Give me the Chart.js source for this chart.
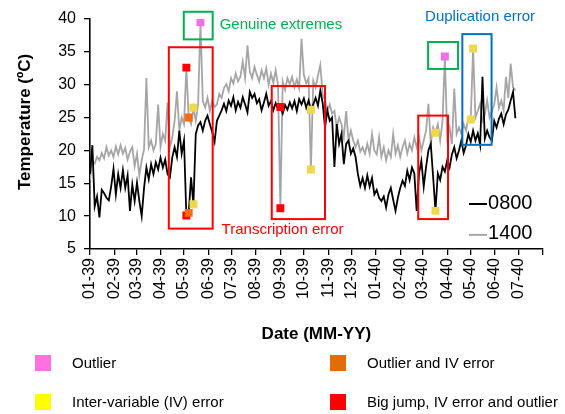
<!DOCTYPE html>
<html>
<head>
<meta charset="utf-8">
<script src="https://cdn.jsdelivr.net/npm/chart.js@4.4.0/dist/chart.umd.min.js"></script>
<style>
  html, body { margin: 0; padding: 0; background: #fff; }
  #wrap { width: 565px; height: 414px; }
</style>
</head>
<body>
<div id="wrap"><canvas id="chart" width="565" height="414"></canvas></div>
<script>
// daily temps, one sample every STEP days from 01-01-1939
const STEP = 3;
const t0800 = [
  16.4, 20.8, 11.5, 13.0, 9.8, 14.0, 13.5, 12.8, 12.4, 14.5,
  17.2, 13.3, 16.4, 14.3, 17.0, 14.3, 16.2, 10.8, 14.8, 12.3,
  15.1, 12.3, 10.0, 14.3, 17.4, 15.6, 17.9, 16.4, 18.2, 17.1,
  18.9, 17.4, 18.6, 16.4, 15.9, 18.9, 20.5, 19.0, 23.0, 19.5,
  21.5, 10.1, 10.5, 15.9, 11.8, 22.5, 23.8, 24.3, 23.0, 24.5,
  25.3, 24.0, 22.8, 21.3, 24.5, 25.3, 26.1, 27.1, 26.0, 27.6,
  26.8, 28.1, 26.1, 27.4, 26.5, 28.1, 27.0, 25.8, 28.9, 28.0,
  28.6, 27.2, 27.8, 26.1, 27.3, 28.6, 26.8, 27.5, 26.1, 27.2,
  26.3, 26.6, 25.6, 26.9, 26.2, 27.3, 26.4, 27.5, 26.0, 27.8,
  27.0, 27.9, 26.5, 27.6, 26.2, 27.0, 28.0, 26.8, 29.1, 27.2,
  23.5, 26.1, 24.5, 25.0, 17.5, 24.0, 21.0, 22.5, 17.9, 21.0,
  21.5, 19.5, 20.3, 19.0, 16.4, 14.6, 15.8, 14.3, 16.2, 14.5,
  15.8, 13.3, 14.0, 12.8, 12.3, 13.0, 11.3, 13.3, 14.3, 12.5,
  10.8, 12.8, 14.3, 15.4, 14.6, 16.9, 15.5, 17.4, 16.5, 10.8,
  16.5, 18.4, 14.5, 17.5, 20.0, 21.0, 16.0, 10.8, 16.5, 15.5,
  17.5, 16.8, 18.5, 17.4, 19.4, 20.5, 18.8, 20.0, 21.5, 19.6,
  20.8, 22.5, 21.3, 23.0, 21.5, 22.6, 20.8, 31.2, 21.8, 23.0,
  22.0, 21.5, 24.5, 23.5, 24.8, 25.6, 24.0, 25.5, 26.2, 27.6,
  28.9, 24.9
];
const t1400 = [
  15.5, 18.4, 18.0, 19.0, 18.5, 19.6, 18.8, 20.5, 19.2, 20.0,
  19.0, 20.6, 19.4, 20.8, 19.5, 20.4, 18.6, 19.8, 20.5, 17.6,
  19.5, 16.2, 18.5, 20.2, 31.0, 20.5, 21.5, 20.0, 21.0, 27.0,
  20.5, 22.5, 21.5, 27.3, 20.5, 22.0, 24.5, 29.0, 23.0, 25.0,
  24.0, 32.6, 25.0, 24.0, 26.5, 24.5, 27.0, 39.5, 27.5, 26.5,
  28.0, 26.0, 27.6, 26.6, 27.0, 28.6, 28.0, 29.5, 30.1, 29.0,
  31.0, 30.2, 31.7, 30.5, 31.2, 33.5, 31.0, 36.0, 32.0, 31.0,
  32.7, 31.5, 30.5, 32.2, 31.0, 32.5, 30.0, 31.7, 30.3, 32.2,
  30.0, 11.2, 30.5, 29.2, 31.0, 30.1, 31.2, 29.6, 30.8, 29.5,
  37.0, 31.5, 30.2, 31.0, 17.1, 30.6, 29.6, 31.4, 33.0, 28.5,
  27.6, 26.0, 27.0, 25.6, 26.0, 23.5, 25.0, 24.0, 22.0, 26.0,
  21.5, 23.0, 21.5, 20.5, 21.5, 19.8, 20.5, 19.5, 21.0, 19.5,
  22.5, 20.0, 19.4, 22.0, 19.0, 20.5, 18.5, 20.0, 19.0, 22.5,
  19.5, 20.8, 19.0, 20.5, 21.5, 19.5, 21.0, 20.0, 22.0, 20.5,
  22.0, 20.0, 21.5, 23.0, 27.1, 21.0, 23.5, 22.7, 24.0, 21.5,
  24.5, 34.3, 22.0, 23.5, 21.0, 29.4, 22.5, 23.5, 22.5, 24.0,
  23.0, 25.0, 24.7, 35.5, 25.0, 26.0, 27.1, 24.5, 25.5, 27.6,
  25.0, 26.0, 27.0, 29.6, 26.5, 27.6, 26.1, 31.2, 28.0, 33.2,
  29.6, 29.1
];

// flagged points (day index, value)
const outlierDays = [141, 453];
const outlierVals = [39.5, 34.3];
const outlierIvDays = [126, 126];
const outlierIvVals = [25.0, 10.5];
const ivDays = [132, 132, 282, 282, 441, 441, 486, 489];
const ivVals = [26.5, 11.8, 26.2, 17.1, 22.7, 10.8, 24.7, 35.5];
const bigJumpDays = [123, 123, 243, 243];
const bigJumpVals = [32.6, 10.1, 26.6, 11.2];

// axis: first day of each month
const monthStarts = [0, 31, 59, 90, 120, 151, 181, 212, 243, 273, 304, 334, 365, 396, 425, 456, 486, 517, 547, 578];
const tickLabels = ['01-39', '02-39', '03-39', '04-39', '05-39', '06-39', '07-39', '08-39', '09-39', '10-39',
  '11-39', '12-39', '01-40', '02-40', '03-40', '04-40', '05-40', '06-40', '07-40', ''];

// boxes around the flagged events: [fromDay, toDay, bottom, top]
const boxes = [
  { c: '#ff0000', d: [100.6, 156.6, 8.1, 35.7] },
  { c: '#ff0000', d: [232, 300, 9.55, 29.8] },
  { c: '#ff0000', d: [419, 457, 9.55, 25.3] },
  { c: '#00b050', d: [119.7, 156.6, 36.9, 41.1] },
  { c: '#00b050', d: [431.6, 469.8, 32.4, 36.5] },
  { c: '#0070c0', d: [475.3, 512.6, 20.85, 37.7] }
];
const notes = [
  { t: 'Genuine extremes', c: '#00b050', d: 165.5, v: 39.1 },
  { t: 'Transcription error', c: '#ff0000', d: 168, v: 7.9 },
  { t: 'Duplication error', c: '#0070c0', d: 427.7, v: 40.3 }
];

const FONT = "'Liberation Sans', Arial, sans-serif";
Chart.defaults.font.family = FONT;
Chart.defaults.color = '#000';

const pts = (days, vals) => days.map((d, i) => ({ x: d, y: vals[i] }));
const series = vals => vals.map((v, i) => ({ x: i * STEP, y: v }));

const marker = (label, color, days, vals) => ({
  label, data: pts(days, vals), showLine: false, order: 0,
  pointStyle: 'rect', pointRadius: 5.6, pointBorderWidth: 0,
  backgroundColor: color, borderColor: color
});

const overlay = {
  id: 'overlay',
  afterDatasetsDraw(chart) {
    const { ctx, scales: { x, y } } = chart;
    ctx.save();
    ctx.lineWidth = 2;
    boxes.forEach(b => {
      const l = x.getPixelForValue(b.d[0]), r = x.getPixelForValue(b.d[1]);
      const t = y.getPixelForValue(b.d[3]), bt = y.getPixelForValue(b.d[2]);
      ctx.strokeStyle = b.c;
      ctx.strokeRect(l, t, r - l, bt - t);
    });
    ctx.restore();
  },
  afterDraw(chart) {
    const { ctx, scales: { x, y } } = chart;
    ctx.save();
    ctx.textBaseline = 'middle';
    ctx.textAlign = 'left';
    ctx.font = '15px ' + FONT;
    notes.forEach(n => {
      ctx.fillStyle = n.c;
      ctx.fillText(n.t, x.getPixelForValue(n.d), y.getPixelForValue(n.v));
    });

    // series key inside the plot
    ctx.font = '20px ' + FONT;
    [['0800', '#000', 12.0], ['1400', '#a6a6a6', 7.3]].forEach(([lab, col, v]) => {
      const px = x.getPixelForValue(483.8), py = y.getPixelForValue(v);
      ctx.strokeStyle = col;
      ctx.lineWidth = 2;
      ctx.beginPath();
      ctx.moveTo(px, py + 1);
      ctx.lineTo(px + 18, py + 1);
      ctx.stroke();
      ctx.fillStyle = '#000';
      ctx.fillText(lab, px + 19, py);
    });

    // axis titles
    ctx.font = 'bold 17px ' + FONT;
    ctx.textAlign = 'center';
    ctx.fillText('Date (MM-YY)', (chart.chartArea.left + chart.chartArea.right) / 2, 334);
    ctx.translate(25, 122);
    ctx.rotate(-Math.PI / 2);
    ctx.fillText('Temperature (ºC)', 0, 0);
    ctx.restore();

    // flag legend
    ctx.save();
    ctx.font = '15px ' + FONT;
    ctx.textBaseline = 'middle';
    [['Outlier', '#ff71e1', 35, 363], ['Inter-variable (IV) error', '#ffff00', 35, 402],
     ['Outlier and IV error', '#e36c09', 330, 363], ['Big jump, IV error and outlier', '#ff0000', 330, 402]]
      .forEach(([lab, col, lx, ly]) => {
        ctx.fillStyle = col;
        ctx.fillRect(lx, ly - 8, 16, 16);
        ctx.fillStyle = '#000';
        ctx.fillText(lab, lx + 37, ly + 1);
      });
    ctx.restore();
  }
};

new Chart(document.getElementById('chart'), {
  type: 'line',
  data: {
    datasets: [
      marker('Outlier', '#f36fe8', outlierDays, outlierVals),
      marker('Outlier and IV error', '#ff6a10', outlierIvDays, outlierIvVals),
      marker('Inter-variable (IV) error', '#efd84b', ivDays, ivVals),
      marker('Big jump, IV error and outlier', '#ff0000', bigJumpDays, bigJumpVals),
      { label: '0800', data: series(t0800), borderColor: '#000', borderWidth: 1.8, pointRadius: 0, order: 1 },
      { label: '1400', data: series(t1400), borderColor: '#a6a6a6', borderWidth: 1.8, pointRadius: 0, order: 2 }
    ]
  },
  options: {
    responsive: false,
    animation: false,
    events: [],
    layout: { padding: { left: 0, right: 21, top: 19, bottom: 0 } },
    plugins: { legend: { display: false }, tooltip: { enabled: false } },
    scales: {
      x: {
        type: 'linear', min: 0, max: 578,
        afterBuildTicks: s => { s.ticks = monthStarts.map(v => ({ value: v })); },
        afterFit: s => { s.height = 165; },
        ticks: {
          autoSkip: false, minRotation: 90, maxRotation: 90, padding: 3,
          font: { size: 16 },
          callback: (v, i) => tickLabels[i]
        },
        grid: { drawOnChartArea: false, tickLength: 6, color: '#000', lineWidth: 1.3 },
        border: { color: '#000', width: 1.6 }
      },
      y: {
        min: 5, max: 40,
        afterFit: s => { s.width = 90; },
        ticks: { stepSize: 5, padding: 8, font: { size: 16 } },
        grid: { drawOnChartArea: false, tickLength: 6, color: '#000', lineWidth: 1.3 },
        border: { color: '#000', width: 1.6 }
      }
    }
  },
  plugins: [overlay]
});
</script>
</body>
</html>
